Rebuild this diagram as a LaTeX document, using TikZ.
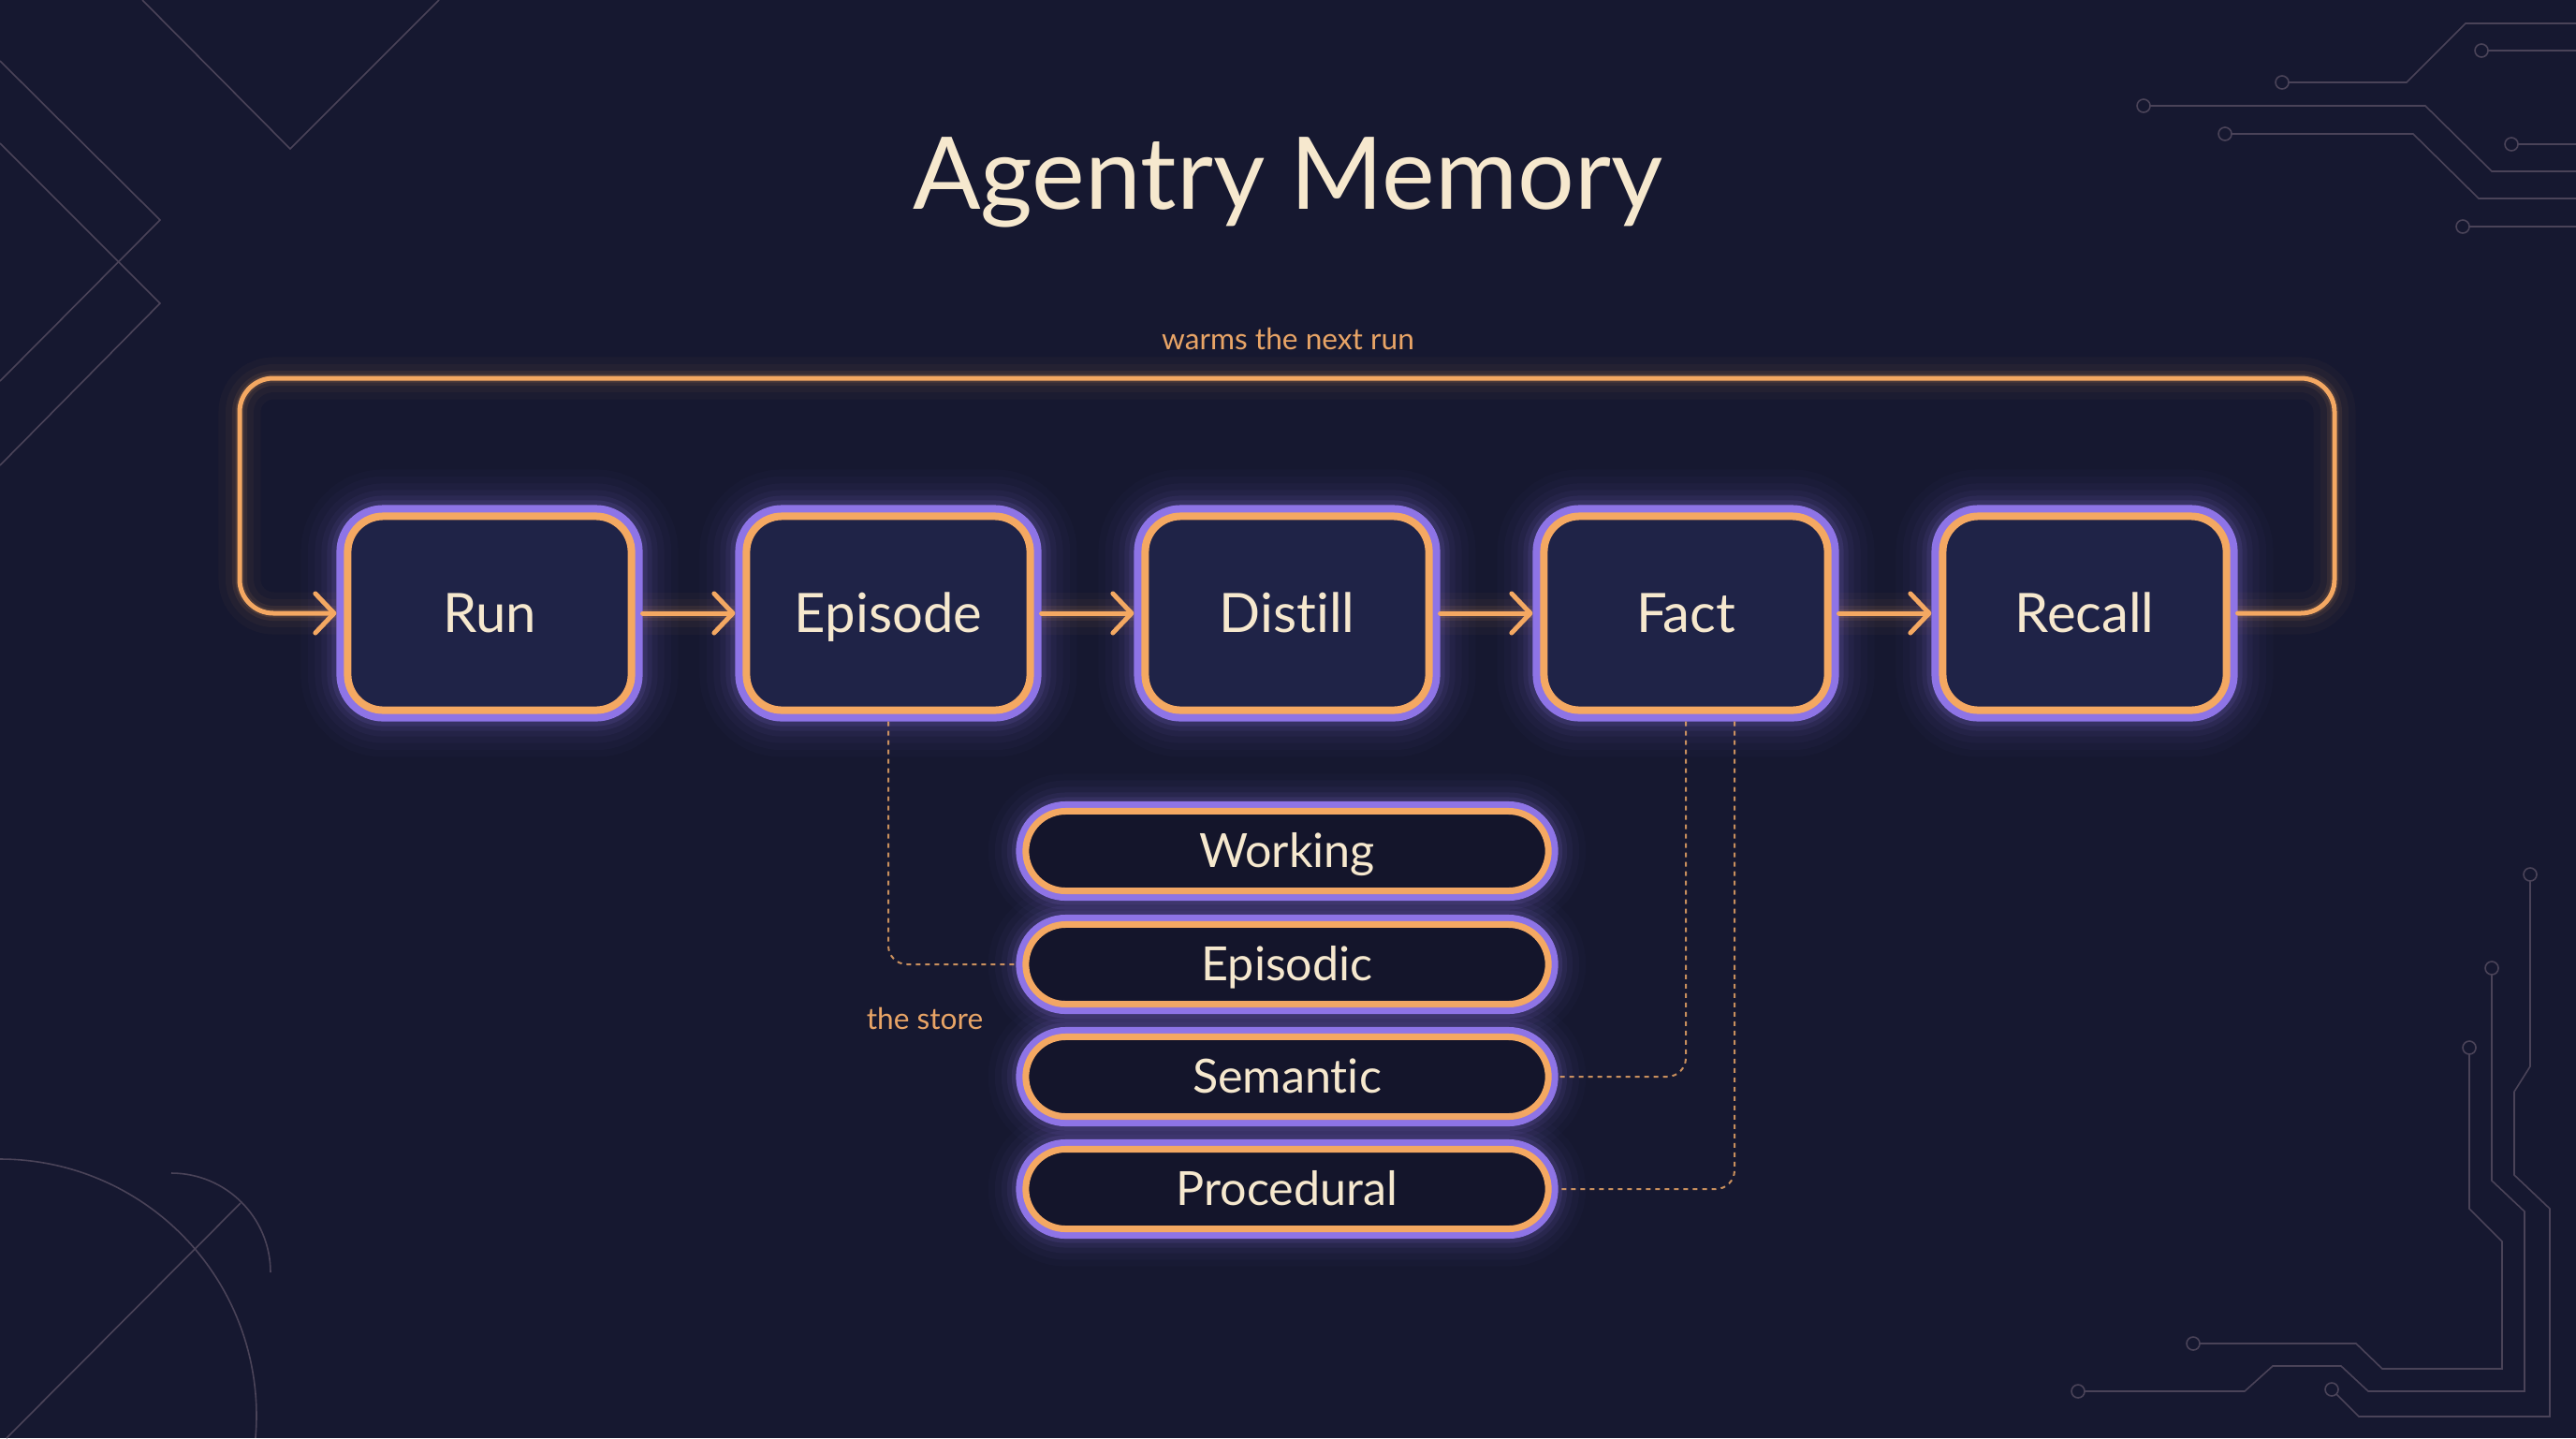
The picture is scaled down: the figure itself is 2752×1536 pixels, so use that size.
\documentclass[tikz,border=0pt]{standalone}
\usepackage{fontspec}
\setmainfont{Lato}[Ligatures=NoCommon]
\usetikzlibrary{arrows.meta,calc}
\definecolor{bg}{HTML}{161830}
\definecolor{orng}{HTML}{F4A862}
\definecolor{purp}{HTML}{8E74E6}
\definecolor{boxfill}{HTML}{1F2347}
\definecolor{pillfill}{HTML}{14152B}
\definecolor{cream}{HTML}{F6E8CE}
\definecolor{decoc}{HTML}{4A4358}
\definecolor{lbl}{HTML}{E8A466}
\begin{document}
\begin{tikzpicture}[x=0.01cm,y=-0.01cm,
  deco/.style={draw=decoc, line width=0.016cm},
  stepbox/.style={rectangle, rounded corners=0.38cm, minimum width=3.03cm, minimum height=2.07cm,
    draw=orng, line width=0.08cm, fill=boxfill, text=cream,
    font=\fontsize{16.5}{20}\selectfont, text height=11.8pt, text depth=0pt, outer sep=0.12cm,
    preaction={draw=purp, draw opacity=0.025, line width=1.0cm},
    preaction={draw=purp, draw opacity=0.03, line width=0.85cm},
    preaction={draw=purp, draw opacity=0.04, line width=0.7cm},
    preaction={draw=purp, draw opacity=0.05, line width=0.56cm},
    preaction={draw=purp, draw opacity=0.08, line width=0.44cm},
    preaction={draw=purp, draw opacity=0.12, line width=0.34cm},
    preaction={draw=purp, line width=0.24cm}},
  pill/.style={rectangle, rounded corners=0.425cm, minimum width=5.58cm, minimum height=0.85cm,
    draw=orng, line width=0.07cm, fill=pillfill, text=cream,
    font=\fontsize{14.3}{17}\selectfont, text height=10.2pt, text depth=0pt, outer sep=0.105cm,
    preaction={draw=purp, draw opacity=0.025, line width=0.8cm},
    preaction={draw=purp, draw opacity=0.035, line width=0.66cm},
    preaction={draw=purp, draw opacity=0.05, line width=0.52cm},
    preaction={draw=purp, draw opacity=0.08, line width=0.4cm},
    preaction={draw=purp, draw opacity=0.12, line width=0.3cm},
    preaction={draw=purp, line width=0.21cm}},
  oglow/.style={draw=orng, draw opacity=0.04, line width=0.3cm,
    preaction={draw=orng, draw opacity=0.03, line width=0.45cm},
    postaction={draw=orng, draw opacity=0.08, line width=0.16cm},
    postaction={draw=orng, draw opacity=0.12, line width=0.09cm}},
  flow/.style={draw=orng, line width=0.05cm, line cap=round,
    -{Straight Barb[length=0.2cm, width=0.42cm, round]}},
  dotline/.style={draw=lbl, draw opacity=0.85, line width=0.02cm, dash pattern=on 0.05cm off 0.05cm, rounded corners=0.2cm},
  smalllbl/.style={text=lbl, font=\fontsize{9}{11}\selectfont, anchor=base}
]
\fill[bg] (0,0) rectangle (2752,1536);
\useasboundingbox (0,0) rectangle (2752,1536);

% decorations top-left
\draw[deco] (152,0) -- (310,159) -- (469,0);
\draw[deco] (0,65) -- (171,235) -- (0,407);
\draw[deco] (0,153) -- (171,324) -- (0,497);
% decorations bottom-left
\draw[deco] (0,1238) arc[start angle=-90, end angle=5, radius=274];
\draw[deco] (183,1253) arc[start angle=-90, end angle=0, radius=106];
\draw[deco] (7,1536) -- (257,1285);
% decorations top-right
\draw[deco] (2752,25) -- (2634,25) -- (2571,88) -- (2445,88);
\draw[deco] (2438,88) circle[radius=7];
\draw[deco] (2651,54) circle[radius=7];
\draw[deco] (2658,54) -- (2752,54);
\draw[deco] (2290,113) circle[radius=7];
\draw[deco] (2297,113) -- (2591,113) -- (2662,183) -- (2752,183);
\draw[deco] (2377,143) circle[radius=7];
\draw[deco] (2384,143) -- (2578,143) -- (2648,212) -- (2752,212);
\draw[deco] (2683,154) circle[radius=7];
\draw[deco] (2690,154) -- (2752,154);
\draw[deco] (2631,242) circle[radius=7];
\draw[deco] (2638,242) -- (2752,242);
% decorations bottom-right
\draw[deco] (2703,934) circle[radius=7];
\draw[deco] (2703,941) -- (2703,1139) -- (2686,1166) -- (2686,1255) -- (2724,1291) -- (2724,1513) -- (2520,1513) -- (2496,1489);
\draw[deco] (2491,1484) circle[radius=7];
\draw[deco] (2662,1034) circle[radius=7];
\draw[deco] (2662,1041) -- (2662,1261) -- (2697,1294) -- (2697,1486) -- (2530,1486) -- (2501,1459) -- (2428,1459) -- (2398,1486) -- (2227,1486);
\draw[deco] (2220,1486) circle[radius=7];
\draw[deco] (2638,1119) circle[radius=7];
\draw[deco] (2638,1126) -- (2638,1291) -- (2673,1326) -- (2673,1462) -- (2545,1462) -- (2517,1435) -- (2350,1435);
\draw[deco] (2343,1435) circle[radius=7];

% title
\node[text=cream, font=\fontsize{30.5}{36}\selectfont, anchor=base] (title) at (1376,223) {Agentry Memory};

% main boxes
\node[stepbox] (run) at (523,655) {Run};
\node[stepbox] (episode) at (949,655) {Episode};
\node[stepbox] (distill) at (1375,655) {Distill};
\node[stepbox] (fact) at (1801,655) {Fact};
\node[stepbox] (recall) at (2227,655) {Recall};

% feedback loop
\coordinate (lr) at (2494,655);
\coordinate (tr) at (2494,404);
\coordinate (tl) at (256,404);
\coordinate (ll) at (256,655);
\draw[oglow, rounded corners=0.36cm] (recall.east) -- (lr) -- (tr) -- (tl) -- (ll) -- (run.west);
\draw[flow, rounded corners=0.36cm] (recall.east) -- (lr) -- (tr) -- (tl) -- (ll) -- (run.west);
\node[smalllbl] (warm) at (1376,373) {warms the next run};

% arrows
\foreach \a/\b in {run/episode, episode/distill, distill/fact, fact/recall}{
  \draw[oglow] (\a.east) -- (\b.west);
  \draw[flow] (\a.east) -- (\b.west);
}

% memory pills
\node[pill] (working) at (1375,909) {Working};
\node[pill] (episodic) at (1375,1030) {Episodic};
\node[pill] (semantic) at (1375,1150) {Semantic};
\node[pill] (procedural) at (1375,1270) {Procedural};

% dotted links
\coordinate (fact2) at ($(fact.south)+(52,0)$);
\draw[dotline] (episode.south) |- (episodic.west);
\draw[dotline] (fact.south) |- (semantic.east);
\draw[dotline] (fact2) |- (procedural.east);
\node[smalllbl] (store) at (988,1099) {the store};
\end{tikzpicture}
\end{document}
